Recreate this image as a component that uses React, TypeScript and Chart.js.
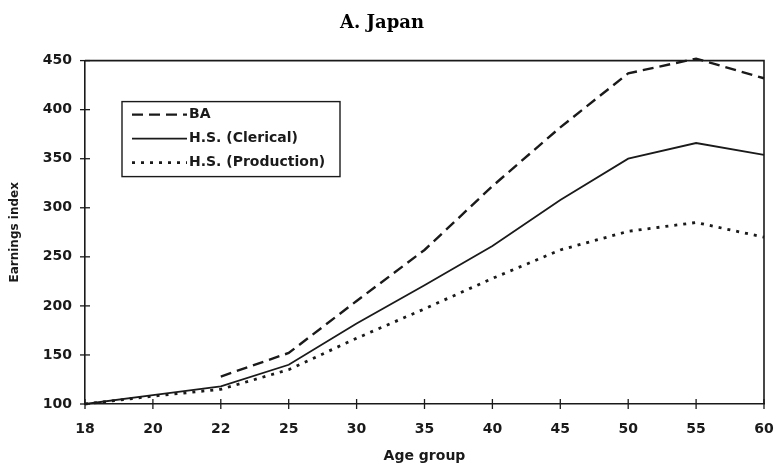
import React, { useEffect, useRef } from "react";
import { Chart, registerables } from "chart.js";

Chart.register(...registerables);

const ageGroups = ["18", "20", "22", "25", "30", "35", "40", "45", "50", "55", "60"];
const baValues = [null, null, 128, 152, 205, 257, 322, 382, 437, 452, 432];
const clericalValues = [100, 109, 118, 140, 182, 221, 261, 308, 350, 366, 354];
const productionValues = [100, 108, 115, 135, 167, 197, 228, 257, 276, 285, 270];
const seriesLabels = ["BA", "H.S. (Clerical)", "H.S. (Production)"];
const yMin = 100;
const yMax = 450;
const yStep = 50;

const INK = "#1a1a1a";
const SANS = "'DejaVu Sans', 'Liberation Sans', Arial, sans-serif";

const frameAndTicks = {
  id: "frameAndTicks",
  afterDatasetsDraw(chart: any) {
    const { ctx, chartArea, scales } = chart;
    ctx.save();
    ctx.strokeStyle = INK;
    ctx.lineWidth = 1.6;
    ctx.beginPath();
    ctx.moveTo(chartArea.left, chartArea.top);
    ctx.lineTo(chartArea.right, chartArea.top);
    ctx.lineTo(chartArea.right, chartArea.bottom);
    ctx.stroke();
    ctx.lineWidth = 1.3;
    const xs = scales.x;
    xs.ticks.forEach((_: any, i: number) => {
      const px = xs.getPixelForTick(i);
      ctx.beginPath();
      ctx.moveTo(px, chartArea.bottom - 5);
      ctx.lineTo(px, chartArea.bottom + 5);
      ctx.stroke();
    });
    const ys = scales.y;
    ys.ticks.forEach((_: any, i: number) => {
      const py = ys.getPixelForTick(i);
      ctx.beginPath();
      ctx.moveTo(chartArea.left - 5, py);
      ctx.lineTo(chartArea.left + 5, py);
      ctx.stroke();
    });
    ctx.restore();
  },
};

const boxLegend = {
  id: "boxLegend",
  afterDraw(chart: any) {
    const { ctx, chartArea } = chart;
    const left = chartArea.left + 37;
    const top = chartArea.top + 41;
    const w = 218;
    const h = 75;
    ctx.save();
    ctx.fillStyle = "#fff";
    ctx.fillRect(left, top, w, h);
    ctx.strokeStyle = INK;
    ctx.lineWidth = 1.4;
    ctx.strokeRect(left, top, w, h);
    ctx.font = "bold 14px " + SANS;
    ctx.textBaseline = "middle";
    ctx.fillStyle = INK;
    chart.data.datasets.forEach((ds: any, i: number) => {
      const y = top + 13 + i * 24;
      ctx.beginPath();
      ctx.setLineDash(ds.borderDash || []);
      ctx.lineWidth = ds.borderWidth;
      ctx.strokeStyle = ds.borderColor;
      ctx.moveTo(left + 10, y);
      ctx.lineTo(left + 65, y);
      ctx.stroke();
      ctx.setLineDash([]);
      ctx.fillText(ds.label, left + 67, y);
    });
    ctx.restore();
  },
};

export default function App() {
  const ref = useRef<HTMLCanvasElement | null>(null);
  useEffect(() => {
    if (!ref.current) return;
    const tickFont = { family: SANS, size: 14, weight: "bold" as const };
    const chart = new Chart(ref.current, {
      type: "line",
      data: {
        labels: ageGroups,
        datasets: [
          {
            label: seriesLabels[0],
            data: baValues,
            borderColor: INK,
            borderWidth: 2.4,
            borderDash: [11, 6],
            pointRadius: 0,
            fill: false,
            spanGaps: false,
            clip: false,
          } as any,
          {
            label: seriesLabels[1],
            data: clericalValues,
            borderColor: INK,
            borderWidth: 1.8,
            pointRadius: 0,
            fill: false,
            clip: false,
          },
          {
            label: seriesLabels[2],
            data: productionValues,
            borderColor: INK,
            borderWidth: 2.8,
            borderDash: [3, 6],
            pointRadius: 0,
            fill: false,
            clip: false,
          },
        ],
      },
      options: {
        animation: false,
        responsive: true,
        maintainAspectRatio: false,
        layout: { padding: { left: 0, right: 18, top: 13, bottom: 0 } },
        plugins: {
          legend: { display: false },
          tooltip: { enabled: false },
          title: {
            display: true,
            text: "A. Japan",
            color: "#000",
            font: { family: "'DejaVu Serif', 'Liberation Serif', serif", size: 18, weight: "bold" },
            padding: { top: 0, bottom: 26 },
          },
        },
        scales: {
          x: {
            type: "category",
            offset: false,
            grid: { display: false, drawTicks: false, offset: false },
            border: { display: true, color: INK, width: 1.6 },
            ticks: { color: INK, font: tickFont, padding: 17, maxRotation: 0, autoSkip: false },
            title: {
              display: true,
              text: "Age group",
              color: INK,
              font: { family: SANS, size: 14, weight: "bold" },
              padding: { top: 4, bottom: 3 },
            },
            afterFit: (scale: any) => {
              scale.height = 64;
              scale.paddingLeft = 0;
              scale.paddingRight = 0;
            },
          },
          y: {
            min: yMin,
            max: yMax,
            grid: { display: false, drawTicks: false },
            border: { display: true, color: INK, width: 1.6 },
            ticks: { stepSize: yStep, color: INK, font: tickFont, padding: 13 },
            title: {
              display: true,
              text: "Earnings index",
              color: INK,
              font: { family: SANS, size: 12, weight: "bold" },
              padding: { top: 8, bottom: 0 },
            },
            afterFit: (scale: any) => {
              scale.width = 85;
            },
          },
        },
      },
      plugins: [frameAndTicks, boxLegend],
    });
    return () => chart.destroy();
  }, []);
  return (
    <div style={{ position: "absolute", left: 0, top: 0, width: 782, height: 468, background: "#fff" }}>
      <canvas ref={ref} />
    </div>
  );
}
